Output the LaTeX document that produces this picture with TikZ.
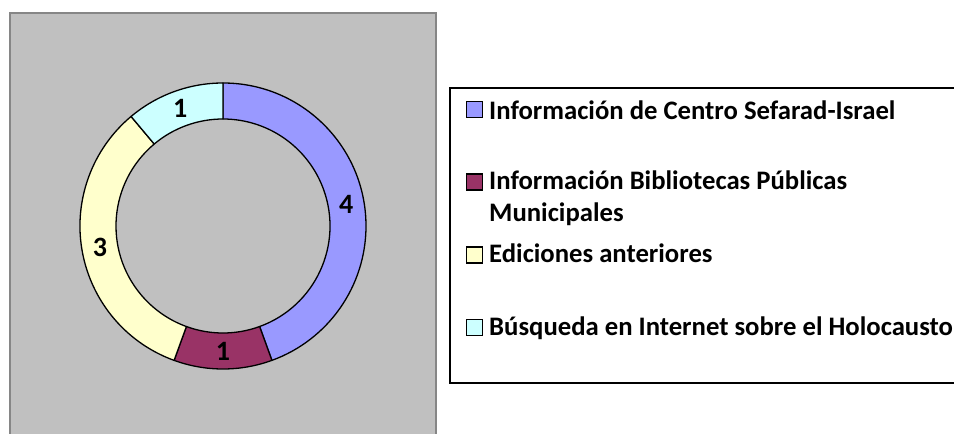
\documentclass[tikz,border=0pt]{standalone}
\usepackage{fontspec}
\setmainfont{Carlito}
\usetikzlibrary{positioning}
\definecolor{CBlue}{HTML}{9999FF}
\definecolor{CPlum}{HTML}{993366}
\definecolor{CIvory}{HTML}{FFFFCC}
\definecolor{CAqua}{HTML}{CCFFFF}
\definecolor{CArea}{HTML}{C0C0C0}
\definecolor{CFrame}{HTML}{868686}
\tikzset{
    slice/.style = {draw, line width=1.3pt, line join=round},
    val/.style = {font=\fontsize{28}{28}\selectfont\bfseries, inner sep=0pt},
    key/.style = {draw, rectangle, line width=1.3pt,
        minimum size=16pt, inner sep=0pt},
    entry/.style = {font=\fontsize{26.7}{31.7}\selectfont\bfseries,
        inner sep=0pt, align=left, anchor=base west}
}

\begin{document}
\begin{tikzpicture}[x=1pt, y=1pt]
    \useasboundingbox (0,0) rectangle (954,434);
    % plot area
    \filldraw [fill=CArea, draw=CFrame, line width=2pt] (10,421) rectangle (436,-10);
    % ring
    \begin{scope}[shift={(223,208)}]
        \filldraw [slice, fill=CBlue] (90:143) arc[start angle=90, end angle=-70, radius=143]
            -- (-70:107) arc[start angle=-70, end angle=90, radius=107] -- cycle;
        \filldraw [slice, fill=CPlum] (-70:143) arc[start angle=-70, end angle=-110, radius=143]
            -- (-110:107) arc[start angle=-110, end angle=-70, radius=107] -- cycle;
        \filldraw [slice, fill=CIvory] (-110:143) arc[start angle=-110, end angle=-230, radius=143]
            -- (-230:107) arc[start angle=-230, end angle=-110, radius=107] -- cycle;
        \filldraw [slice, fill=CAqua] (130:143) arc[start angle=130, end angle=90, radius=143]
            -- (90:107) arc[start angle=90, end angle=130, radius=107] -- cycle;
        \node [val] (v1) at (10:125) {4};
        \node [val] (v2) at (270:125) {1};
        \node [val] (v3) at (190:125) {3};
        \node [val] (v4) at (110:125) {1};
    \end{scope}
    % legend
    \draw [line width=2pt] (960,346) -- (449.5,346) -- (449.5,50.5) -- (960,50.5);
    \node [key, fill=CBlue] (k1) at (474.5,324.8) {};
    \node [key, fill=CPlum] (k2) at (474.5,252) {};
    \node [key, fill=CIvory] (k3) at (474.5,179) {};
    \node [key, fill=CAqua] (k4) at (474.5,106.8) {};
    \node [entry] (e1) at (489,314) {Información de Centro Sefarad-Israel};
    \node [entry] (e2) at (489,212.3) {Información Bibliotecas Públicas\\Municipales};
    \node [entry] (e3) at (489,171.3) {Ediciones anteriores};
    \node [entry] (e4) at (489,98) {Búsqueda en Internet sobre el Holocausto};
\end{tikzpicture}
\end{document}
